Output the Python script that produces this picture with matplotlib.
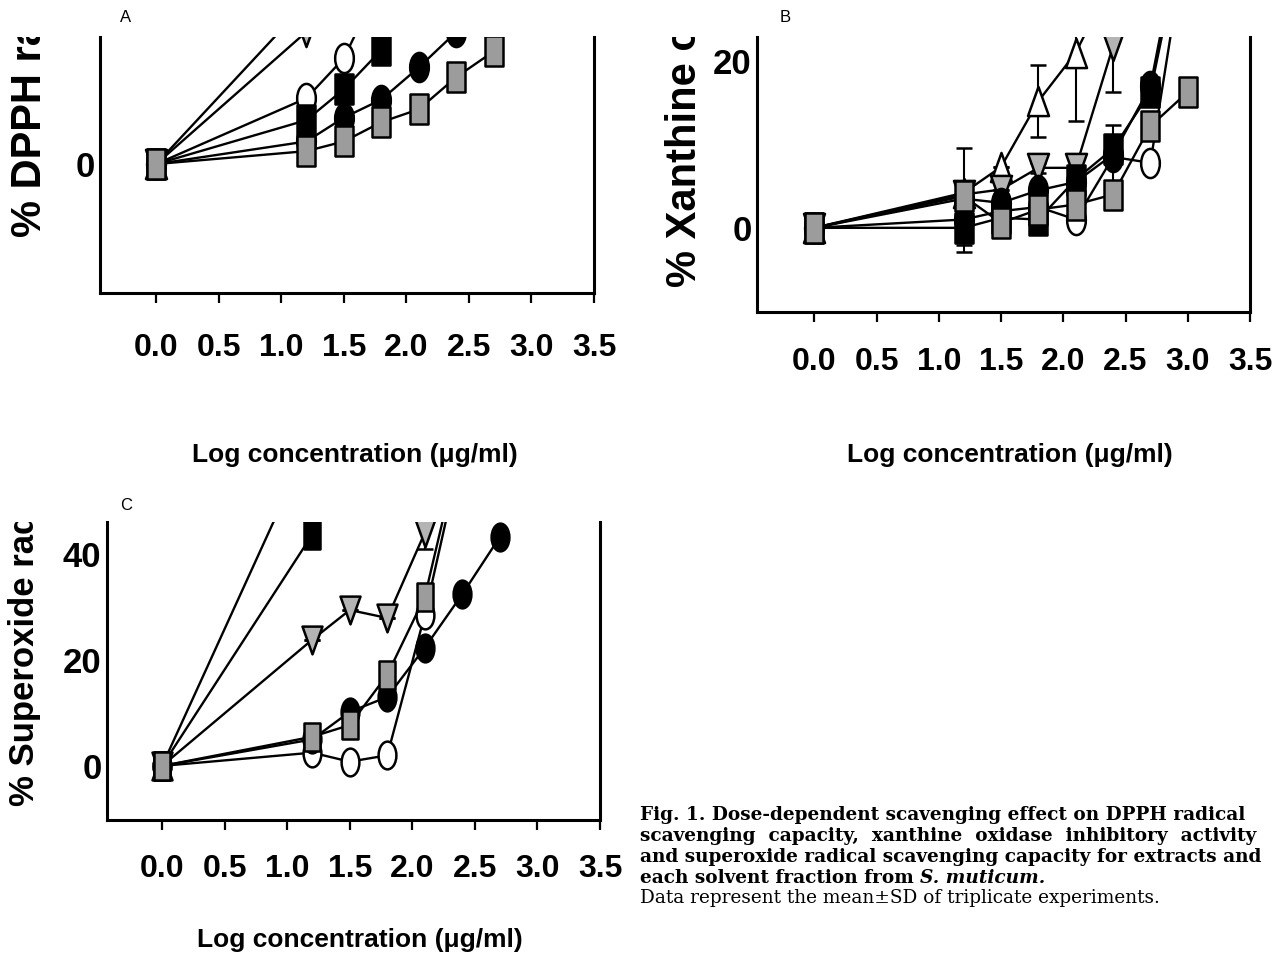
import matplotlib
matplotlib.use("Agg")
import matplotlib.pyplot as plt
from matplotlib import font_manager as fm
from matplotlib.path import Path
from matplotlib.transforms import Affine2D, Bbox, TransformedBbox

W, H = 1282, 964

# log concentration (ug/ml) steps
conc = [0.0, 1.2, 1.5, 1.8, 2.1, 2.4, 2.7, 3.0]
xtick_vals = [0.0, 0.5, 1.0, 1.5, 2.0, 2.5, 3.0, 3.5]
xtick_labels = ["0.0", "0.5", "1.0", "1.5", "2.0", "2.5", "3.0", "3.5"]

# A: DPPH radical scavenging (%)
a_tri_up = [0, 25]
a_tri_dn = [0, 20.5, 30]
a_circ_open = [0, 10.2, 16.4, 28.5]
a_circ_fill = [0, 3.5, 7.2, 10.0, 15.0, 20.5]
a_sq_fill = [0, 6.8, 11.6, 17.7]
a_sq_gray = [0, 2.0, 3.5, 6.5, 8.5, 13.5, 17.5]

# B: xanthine oxidase inhibition (%)
b_tri_up = [0, 4.2, 7.3, 15.2, 21.0, 30]
b_tri_up_err = [0.6, 0, 0, 4.3, 8.2, 0]
b_tri_dn = [0, 4.0, 4.6, 7.2, 7.2, 21.8, 34]
b_tri_dn_err = [0, 0, 0, 0.6, 1.2, 5.5, 0]
b_circ_open = [0, 1.0, 2.0, 2.5, 1.0, 8.5, 7.8, 36]
b_circ_fill = [0, 3.5, 3.0, 4.5, 5.5, 8.8, 17.0, 40]
b_circ_fill_err = [0, 0, 0, 0, 0.8, 3.5, 0, 0]
b_sq_fill = [0, 0.0, 1.2, 1.0, 5.8, 9.5, 16.3, 38]
b_sq_fill_err = [0, 2.9, 0, 0, 0, 0, 0, 0]
b_sq_gray = [0, 3.8, 0.6, 2.2, 2.8, 4.0, 12.2, 16.3]
b_sq_gray_err = [0, 5.8, 0, 0, 0, 0, 0, 0]

# C: superoxide radical scavenging (%)
c_tri_up = [0, 62]
c_sq_fill = [0, 43.6]
c_tri_dn = [0, 23.8, 29.4, 27.9, 44.0, 65]
c_tri_dn_err = [0, 0, 0, 0, 3.0, 0]
c_circ_open = [0, 2.5, 0.8, 2.0, 28.5, 60]
c_circ_fill = [0, 5.0, 10.2, 13.0, 22.3, 32.4, 43.2]
c_sq_gray = [0, 5.5, 7.7, 17.2, 31.9, 62]

names = {f.name for f in fm.fontManager.ttflist}
narrow = "Liberation Sans Narrow" if "Liberation Sans Narrow" in names else "Liberation Sans"

# tall, squashed marker shapes like the scanned figure
rect = Path.unit_rectangle().transformed(Affine2D().translate(-0.5, -0.5).scale(0.6, 1))
ellipse = Path.unit_circle().transformed(Affine2D().scale(0.32, 0.5))
tri_up = Path([(-0.36, -0.5), (0.36, -0.5), (0, 0.5), (-0.36, -0.5)],
              [Path.MOVETO, Path.LINETO, Path.LINETO, Path.CLOSEPOLY])
tri_dn = Path([(-0.36, 0.5), (0.36, 0.5), (0, -0.5), (-0.36, 0.5)],
              [Path.MOVETO, Path.LINETO, Path.LINETO, Path.CLOSEPOLY])

styles = {
    "tri_up": dict(marker=tri_up, mfc="white"),
    "tri_dn": dict(marker=tri_dn, mfc="#b4b4b4"),
    "circ_open": dict(marker=ellipse, mfc="white"),
    "circ_fill": dict(marker=ellipse, mfc="black"),
    "sq_fill": dict(marker=rect, mfc="black"),
    "sq_gray": dict(marker=rect, mfc="#9c9c9c"),
}


def fr(px, py):
    return px / W, 1 - py / H


def make_axes(left, top, right, bottom, xlim, ylim, yticks, pad):
    x0, y1 = fr(left, top)
    x1, y0 = fr(right, bottom)
    ax = fig.add_axes([x0, y0, x1 - x0, y1 - y0])
    ax.set_xlim(*xlim)
    ax.set_ylim(*ylim)
    ax.spines["top"].set_visible(False)
    for s in ["left", "right", "bottom"]:
        ax.spines[s].set_linewidth(2.2)
    ax.set_xticks(xtick_vals)
    ax.set_xticklabels(xtick_labels, fontfamily=narrow, fontweight="bold", fontsize=23)
    ax.set_yticks(yticks)
    ax.set_yticklabels([str(v) for v in yticks], fontfamily=narrow, fontweight="bold", fontsize=25)
    ax.tick_params(axis="x", direction="out", length=7.5, width=1.6, pad=pad)
    ax.tick_params(axis="y", length=0, pad=4)
    return ax


def series(ax, key, ys, err=None, ms=21):
    xs = conc[:len(ys)]
    st = styles[key]
    if err is not None:
        ax.errorbar(xs, ys, yerr=err[:len(ys)], fmt="none", ecolor="black",
                    elinewidth=1.5, capsize=6, capthick=1.8, zorder=2)
    ax.plot(xs, ys, color="black", lw=1.7, marker=st["marker"], ms=ms,
            mfc=st["mfc"], mec="black", mew=1.8, zorder=3)


def ylabel(text, cx, bottom, top, size):
    x, y = fr(cx, bottom)
    t = fig.text(x, y, text, rotation=90, ha="center", va="bottom",
                 fontfamily="Liberation Sans", fontweight="bold", fontsize=size)
    # the scan is cropped at the top, so the label is cut there
    yt = 1 - top / H
    t.set_clip_box(TransformedBbox(Bbox([[0, 0], [1, yt]]), fig.transFigure))
    t.set_clip_on(True)


def xlabel(cx, cy):
    fig.text(*fr(cx, cy), "Log concentration (\u03bcg/ml)", ha="center", va="center",
             fontfamily=narrow, fontweight="bold", fontsize=19)


fig = plt.figure(figsize=(W / 100, H / 100), dpi=100)

# ---- panel A ----
axA = make_axes(100, 37, 594, 293, (-0.45, 3.5), (-20, 19.7), [0], 21)
series(axA, "tri_up", a_tri_up)
series(axA, "tri_dn", a_tri_dn)
series(axA, "circ_open", a_circ_open)
series(axA, "circ_fill", a_circ_fill)
series(axA, "sq_fill", a_sq_fill)
series(axA, "sq_gray", a_sq_gray, err=[1.2] + [0] * 7)
ylabel("% DPPH radical scavenging", 30, 237, 37, 30)
xlabel(355, 455)
fig.text(*fr(120, 18), "A", ha="left", va="center", fontfamily="Liberation Sans", fontsize=12)

# ---- panel B ----
axB = make_axes(757, 37, 1250, 312, (-0.46, 3.5), (-10.1, 22.9), [0, 20], 18)
series(axB, "tri_up", b_tri_up, err=b_tri_up_err)
series(axB, "tri_dn", b_tri_dn, err=b_tri_dn_err)
series(axB, "circ_open", b_circ_open)
series(axB, "circ_fill", b_circ_fill, err=b_circ_fill_err)
series(axB, "sq_fill", b_sq_fill, err=b_sq_fill_err)
series(axB, "sq_gray", b_sq_gray, err=b_sq_gray_err)
ylabel("% Xanthine oxidase inhibition", 685, 287, 37, 30)
xlabel(1010, 455)
fig.text(*fr(780, 18), "B", ha="left", va="center", fontfamily="Liberation Sans", fontsize=12)

# ---- panel C ----
axC = make_axes(107, 522, 600, 820, (-0.44, 3.5), (-10.2, 46), [0, 20, 40], 17)
series(axC, "tri_up", c_tri_up, ms=20)
series(axC, "sq_fill", c_sq_fill, ms=20)
series(axC, "tri_dn", c_tri_dn, err=c_tri_dn_err, ms=20)
series(axC, "circ_open", c_circ_open, ms=20)
series(axC, "circ_fill", c_circ_fill, ms=20)
series(axC, "sq_gray", c_sq_gray, err=[1.2] + [0] * 7, ms=20)
ylabel("% Superoxide radical scavenging", 25, 806, 522, 25)
xlabel(360, 940)
fig.text(*fr(120, 505), "C", ha="left", va="center", fontfamily="Liberation Sans", fontsize=12)

# ---- caption ----
cap = [
    "Fig. 1. Dose-dependent scavenging effect on DPPH radical",
    "scavenging  capacity,  xanthine  oxidase  inhibitory  activity",
    "and superoxide radical scavenging capacity for extracts and",
]
base = [820, 841, 862]
for line, b in zip(cap, base):
    fig.text(*fr(640, b), line, ha="left", va="baseline",
             fontfamily="DejaVu Serif", fontweight="bold", fontsize=13.3)
t4 = fig.text(*fr(640, 883), "each solvent fraction from ", ha="left", va="baseline",
              fontfamily="DejaVu Serif", fontweight="bold", fontsize=13.3)
fig.canvas.draw()
ext = t4.get_window_extent()
fig.text(ext.x1 / W, 1 - 883 / H, "S. muticum.", ha="left", va="baseline",
         fontfamily="DejaVu Serif", fontweight="bold", style="italic", fontsize=13.3)
fig.text(*fr(640, 903), "Data represent the mean\u00b1SD of triplicate experiments.",
         ha="left", va="baseline", fontfamily="DejaVu Serif", fontsize=13.3)

fig.savefig("out.png", dpi=100)
